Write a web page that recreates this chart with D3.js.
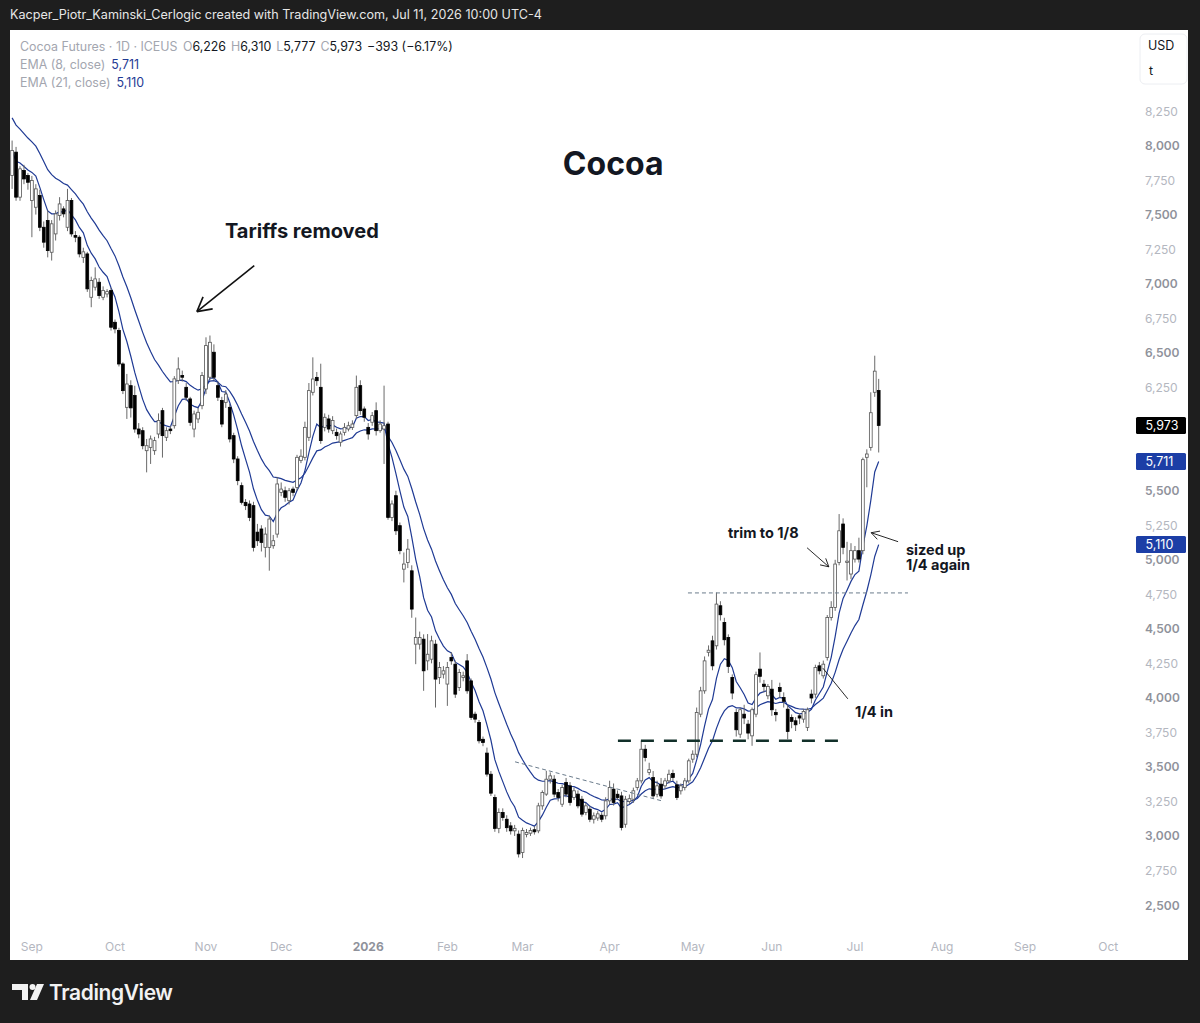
<!DOCTYPE html>
<html>
<head>
<meta charset="utf-8">
<script src="https://cdn.jsdelivr.net/npm/d3@7"></script>
<style>
  body { margin: 0; background: #1e1e1e; }
  svg { display: block; font-family: Inter, "Noto Sans", sans-serif; }
</style>
</head>
<body>
<svg id="chart" width="1200" height="1023"></svg>
<script>
'use strict'

// daily candles, [open, high, low, close], one list per month
const aug25 = [
  [7783, 8036, 7686, 7964], [7952, 7990, 7600, 7626], [7626, 7850, 7600, 7831], [7819, 7860, 7720, 7758],
  [7783, 7800, 7680, 7734]
]
const sep25 = [
  [7602, 7780, 7336, 7746], [7553, 7720, 7500, 7686], [7638, 7680, 7380, 7408], [7408, 7450, 7260, 7300],
  [7457, 7530, 7190, 7239], [7227, 7460, 7167, 7433], [7360, 7530, 7312, 7505], [7493, 7626, 7457, 7577],
  [7541, 7560, 7480, 7505], [7408, 7686, 7380, 7602], [7602, 7620, 7340, 7360], [7348, 7380, 7300, 7336],
  [7336, 7350, 7190, 7215], [7190, 7260, 7150, 7230], [7215, 7230, 6940, 6962], [6901, 7050, 6829, 7022],
  [6974, 7118, 6950, 7034], [7010, 7040, 6890, 6913], [6901, 6980, 6880, 6950], [6925, 6960, 6900, 6942],
  [6950, 6970, 6660, 6684]
]
const oct25 = [
  [6720, 6740, 6640, 6672], [6660, 6680, 6400, 6418], [6418, 6430, 6200, 6225], [6104, 6346, 6020, 6273],
  [6261, 6300, 6030, 6100], [6189, 6260, 5920, 5947], [5947, 5990, 5880, 5911], [5935, 5960, 5800, 5826],
  [5790, 5875, 5633, 5826], [5814, 5900, 5694, 5875], [5790, 5890, 5760, 5863], [5911, 6060, 5880, 6008],
  [6080, 6100, 5740, 5899], [5887, 5960, 5860, 5935], [5947, 5970, 5910, 5935], [5971, 6330, 5950, 6310],
  [6298, 6466, 6273, 6382], [6334, 6370, 6290, 6322], [6249, 6280, 6150, 6177], [6165, 6180, 5970, 5995],
  [5947, 6080, 5887, 6056], [6020, 6100, 5990, 6068], [6116, 6360, 6090, 6334]
]
const nov25 = [
  [6237, 6611, 6200, 6551], [6322, 6624, 6300, 6575], [6503, 6560, 6300, 6322], [6261, 6290, 6150, 6177],
  [6153, 6180, 5960, 5983], [6140, 6230, 6100, 6200], [6104, 6130, 5850, 5875], [5899, 5920, 5700, 5730],
  [5730, 5750, 5540, 5573], [5537, 5560, 5400, 5416], [5416, 5440, 5360, 5392], [5404, 5430, 5280, 5307],
  [5392, 5420, 5060, 5090], [5200, 5260, 5100, 5138], [5223, 5250, 5060, 5126], [5090, 5235, 5017, 5186],
  [5090, 5320, 4921, 5295], [5102, 5180, 5080, 5138], [5186, 5600, 5160, 5549]
]
const dec25 = [
  [5488, 5560, 5460, 5512], [5500, 5530, 5420, 5452], [5428, 5520, 5400, 5500], [5512, 5530, 5460, 5488],
  [5524, 5760, 5500, 5742], [5720, 5800, 5700, 5750], [5742, 6000, 5720, 5959], [5887, 6280, 5860, 6225],
  [6213, 6466, 6190, 6309], [6321, 6360, 6260, 6297], [6249, 6420, 5840, 5863], [5959, 6060, 5930, 6032],
  [6020, 6050, 5920, 5947], [5935, 6040, 5910, 6008], [5923, 5950, 5870, 5899], [5851, 5930, 5820, 5911],
  [5923, 5990, 5900, 5959], [5947, 6000, 5930, 5971], [5959, 6010, 5940, 5983], [6044, 6334, 6020, 6249],
  [6261, 6300, 6050, 6080], [6092, 6110, 6000, 6032]
]
const jan26 = [
  [5959, 5990, 5870, 5911], [5996, 6070, 5970, 6044], [6080, 6140, 5900, 5935], [5935, 6010, 5920, 5983],
  [5947, 6261, 5694, 5971], [5983, 6000, 5290, 5307], [5307, 5430, 5280, 5404], [5464, 5500, 5180, 5210],
  [5247, 5270, 5040, 5066], [4932, 5053, 4836, 4969], [4981, 5150, 4940, 5077], [4920, 4960, 4580, 4643],
  [4389, 4582, 4244, 4437], [4389, 4480, 4350, 4437], [4425, 4460, 4051, 4196], [4268, 4462, 4200, 4316],
  [4280, 4450, 4250, 4413], [4389, 4420, 3930, 4136], [4148, 4260, 4100, 4220], [4172, 4230, 4140, 4196]
]
const feb26 = [
  [4100, 4260, 3942, 4220], [4292, 4330, 4240, 4268], [4244, 4270, 4000, 4027], [4075, 4210, 4050, 4184],
  [4148, 4190, 4120, 4160], [4268, 4317, 4030, 4051], [4123, 4140, 3840, 3858], [3882, 3900, 3820, 3846],
  [3822, 3840, 3670, 3689], [3700, 3720, 3650, 3677], [3600, 3640, 3430, 3448], [3447, 3470, 3290, 3310],
  [3278, 3300, 3030, 3055], [3055, 3200, 3020, 3170], [3170, 3200, 3110, 3133], [3121, 3150, 3030, 3060],
  [3073, 3100, 3010, 3037], [3037, 3080, 3000, 3055], [3013, 3040, 2844, 2870]
]
const mar26 = [
  [2880, 3060, 2840, 3040], [3010, 3050, 2990, 3025], [3020, 3060, 3000, 3040], [3045, 3070, 3010, 3030],
  [3037, 3240, 3020, 3218], [3218, 3330, 3190, 3315], [3303, 3472, 3290, 3411], [3411, 3460, 3380, 3435],
  [3411, 3440, 3280, 3303], [3315, 3340, 3250, 3278], [3230, 3370, 3210, 3351], [3387, 3420, 3280, 3303],
  [3363, 3390, 3220, 3242], [3278, 3350, 3260, 3327], [3303, 3330, 3200, 3218], [3266, 3290, 3140, 3158],
  [3170, 3240, 3150, 3218], [3194, 3220, 3100, 3121], [3121, 3170, 3090, 3146], [3130, 3180, 3110, 3160],
  [3150, 3170, 3100, 3121], [3146, 3280, 3120, 3254]
]
const apr26 = [
  [3254, 3400, 3230, 3351], [3339, 3380, 3220, 3242], [3302, 3330, 3260, 3278], [3290, 3320, 3040, 3061],
  [3085, 3290, 3060, 3266], [3250, 3300, 3230, 3270], [3266, 3350, 3240, 3327], [3351, 3420, 3330, 3399],
  [3399, 3689, 3380, 3628], [3628, 3660, 3540, 3568], [3460, 3530, 3440, 3480], [3423, 3470, 3270, 3290],
  [3302, 3400, 3280, 3363], [3375, 3420, 3270, 3290], [3363, 3420, 3340, 3399], [3399, 3480, 3380, 3447],
  [3452, 3480, 3400, 3423], [3370, 3400, 3260, 3278], [3327, 3380, 3300, 3363], [3351, 3420, 3330, 3399],
  [3399, 3560, 3380, 3544]
]
const may26 = [
  [3556, 3620, 3530, 3592], [3592, 3930, 3570, 3894], [3882, 4080, 3860, 4051], [4051, 4300, 4030, 4268],
  [4330, 4380, 4300, 4345], [4413, 4450, 4200, 4232], [4377, 4763, 4350, 4679], [4667, 4700, 4560, 4602],
  [4546, 4580, 4380, 4421], [4437, 4460, 4180, 4228], [4148, 4170, 3990, 4035], [3894, 3920, 3720, 3769],
  [3737, 3930, 3710, 3914], [3882, 3950, 3810, 3854], [3810, 3840, 3700, 3745], [3725, 3930, 3653, 3914],
  [3882, 4190, 3860, 4168], [4208, 4329, 4110, 4156], [4099, 4130, 4040, 4083], [4015, 4100, 3990, 4083]
]
const jun26 = [
  [4063, 4130, 3870, 3914], [3894, 3920, 3830, 3878], [4075, 4110, 4000, 4047], [4003, 4040, 3930, 3975],
  [3918, 3950, 3700, 3757], [3858, 3880, 3780, 3830], [3834, 3860, 3760, 3805], [3870, 3890, 3810, 3854],
  [3846, 3920, 3820, 3902], [3785, 3930, 3760, 3914], [4027, 4060, 3960, 3999], [4027, 4240, 4000, 4220],
  [4232, 4260, 4170, 4196], [4160, 4270, 4140, 4244], [4293, 4600, 4270, 4582], [4582, 4700, 4560, 4655],
  [4655, 5000, 4630, 4969], [4981, 5331, 4960, 5210], [5259, 5300, 5040, 5090], [4981, 5130, 4850, 4990],
  [4897, 5120, 4860, 5066]
]
const jul26 = [
  [5005, 5100, 4980, 5066], [5066, 5160, 4980, 5005], [5066, 5740, 5040, 5725], [5742, 5800, 5525, 5766],
  [5814, 6213, 5790, 6065], [6213, 6478, 6180, 6366], [6226, 6310, 5777, 5973]
]

// exchange closed on these days (ICE US softs)
const holidays = ['2025-09-01', '2025-11-27', '2025-12-25', '2026-01-01', '2026-01-19', '2026-02-16',
  '2026-04-03', '2026-05-25', '2026-06-19', '2026-07-03', '2026-09-07']

// EMA values on the first visible bar at the left edge
const emaPeriods = [8, 21]
const emaStart = [7960, 8200]

const priceTicks = d3.range(2500, 8251, 250)

// annotations in (bar index, price) space
const notes = [
  { text: 'Cocoa', i: 151.9, p: 7790, cls: 'title' },
  { text: 'Tariffs removed', i: 53.8, p: 7333, cls: 'big' },
  { text: 'trim to 1/8', i: 180.9, p: 5160, cls: 'small' },
  { text: 'sized up', i: 225.9, p: 5036, cls: 'small' },
  { text: '1/4 again', i: 225.9, p: 4928, cls: 'small' },
  { text: '1/4 in', i: 213, p: 3862, cls: 'small' }
]
const arrows = [
  { from: [61.2, 7130], to: [46.7, 6797], head: 16 },
  { from: [200.9, 5087], to: [206.4, 4949], head: 9 },
  { from: [223.9, 5131], to: [217.1, 5196], head: 9 },
  { from: [211.2, 3993], to: [204.9, 4215], head: 0 }
]
const levels = [
  { from: [153.1, 3689], to: [211.2, 3689], kind: 'support' },
  { from: [170.8, 4760], to: [226.4, 4760], kind: 'thin' },
  { from: [127.1, 3537], to: [164.2, 3254], kind: 'thin' }
]

// ---------------------------------------------------------------

const candles = [aug25, sep25, oct25, nov25, dec25, jan26, feb26, mar26, apr26, may26, jun26, jul26].flat()
const closes = candles.map(c => c[3])

// trading days from the first bar out to the end of the axis
const iso = d3.utcFormat('%Y-%m-%d')
const days = []
for (let d = new Date(Date.UTC(2025, 7, 25)); d < new Date(Date.UTC(2026, 9, 20)); d = d3.utcDay.offset(d, 1)) {
  const wd = d.getUTCDay()
  if (wd == 0 || wd == 6 || holidays.includes(iso(d))) continue
  days.push(d)
}

function ema(values, period, seed) {
  const k = 2 / (period + 1)
  let prev = seed
  return values.map((v, i) => (prev = i == 0 ? seed : prev + k * (v - prev)))
}
const emas = emaPeriods.map((n, k) => ema(closes, n, emaStart[k]))

const svg = d3.select('#chart')
const pane = { left: 10, top: 30, right: 1130, bottom: 935 }

const x = d3.scaleLinear().domain([0, 277]).range([12.1, 1108.2])
const y = d3.scaleLinear().domain([2500, 8250]).range([905, 111])

const ink = '#131722', muted = '#a3a6af', blue = '#1c3ea6'

// top strip
svg.append('text').attr('x', 10).attr('y', 19)
  .attr('fill', '#e6e6e6').attr('font-size', 12.6)
  .text('Kacper_Piotr_Kaminski_Cerlogic created with TradingView.com, Jul 11, 2026 10:00 UTC-4')

svg.append('rect').attr('x', 10).attr('y', 30).attr('width', 1178).attr('height', 930).attr('fill', '#fff')

svg.append('defs').append('clipPath').attr('id', 'paneClip')
  .append('rect').attr('x', pane.left).attr('y', pane.top)
  .attr('width', pane.right - pane.left).attr('height', pane.bottom - pane.top)

const plot = svg.append('g').attr('clip-path', 'url(#paneClip)')

// EMA lines
const line = d3.line().x((d, i) => x(i)).y(d => y(d))
plot.selectAll('path.ema').data(emas).join('path')
  .attr('class', 'ema').attr('d', line)
  .attr('fill', 'none').attr('stroke', '#1f3a94').attr('stroke-width', 1.2)

// candles
const bw = 2.8
const cg = plot.selectAll('g.candle').data(candles).join('g').attr('class', 'candle')
cg.append('line')
  .attr('x1', (d, i) => x(i)).attr('x2', (d, i) => x(i))
  .attr('y1', d => y(d[1])).attr('y2', d => y(d[2]))
  .attr('stroke', '#6a6a6a').attr('stroke-width', 1)
cg.append('rect')
  .attr('x', (d, i) => x(i) - bw / 2).attr('width', bw)
  .attr('y', d => y(Math.max(d[0], d[3])))
  .attr('height', d => Math.max(1, Math.abs(y(d[0]) - y(d[3]))))
  .attr('fill', d => d[3] >= d[0] ? '#fff' : '#000')
  .attr('stroke', d => d[3] >= d[0] ? '#555' : '#000')
  .attr('stroke-width', 0.8)

// drawn levels
levels.forEach(l => {
  const sup = l.kind == 'support'
  plot.append('line')
    .attr('x1', x(l.from[0])).attr('y1', y(l.from[1]))
    .attr('x2', x(l.to[0])).attr('y2', y(l.to[1]))
    .attr('stroke', sup ? '#12302a' : '#6b7c8c')
    .attr('stroke-width', sup ? 2.4 : 1)
    .attr('stroke-dasharray', sup ? '13 10' : '4 3')
})

// arrows, open heads
arrows.forEach(a => {
  const x1 = x(a.from[0]), y1 = y(a.from[1]), x2 = x(a.to[0]), y2 = y(a.to[1])
  const g = plot.append('g').attr('stroke', '#111').attr('stroke-width', a.head > 10 ? 1.6 : 0.9).attr('fill', 'none')
  g.append('line').attr('x1', x1).attr('y1', y1).attr('x2', x2).attr('y2', y2)
  if (!a.head) return
  const ang = Math.atan2(y1 - y2, x1 - x2)
  ;[-0.5, 0.5].forEach(s => {
    g.append('line').attr('x1', x2).attr('y1', y2)
      .attr('x2', x2 + a.head * Math.cos(ang + s)).attr('y2', y2 + a.head * Math.sin(ang + s))
  })
})

// text notes
const noteStyle = {
  title: { size: 32, weight: 700, anchor: 'middle' },
  big: { size: 20, weight: 700, anchor: 'start' },
  small: { size: 14.5, weight: 700, anchor: 'start' }
}
plot.selectAll('text.note').data(notes).join('text')
  .attr('class', 'note')
  .attr('x', d => x(d.i)).attr('y', d => y(d.p))
  .attr('text-anchor', d => noteStyle[d.cls].anchor)
  .attr('font-size', d => noteStyle[d.cls].size)
  .attr('font-weight', d => noteStyle[d.cls].weight)
  .attr('fill', ink)
  .text(d => d.text)

// legend, top left
const fmt = d3.format(',.0f')
const last = candles[candles.length - 1], prevClose = candles[candles.length - 2][3]
const chg = last[3] - prevClose
const leg = svg.append('g').attr('font-size', 12.4)
const l1 = leg.append('text').attr('x', 20).attr('y', 51)
l1.append('tspan').attr('fill', muted).text('Cocoa Futures · 1D · ICEUS ')
;['O', 'H', 'L', 'C'].forEach((k, j) => {
  l1.append('tspan').attr('fill', muted).attr('dx', j ? 5 : 2).text(k)
  l1.append('tspan').attr('fill', ink).text(fmt(last[j]))
})
l1.append('tspan').attr('fill', ink).attr('dx', 5)
  .text(`${chg < 0 ? '−' : '+'}${fmt(Math.abs(chg))} (${chg < 0 ? '−' : '+'}${Math.abs(chg / prevClose * 100).toFixed(2)}%)`)
const emaLast = emas.map(e => e[e.length - 1])
emaPeriods.forEach((n, k) => {
  const t = leg.append('text').attr('x', 20).attr('y', 69 + k * 18)
  t.append('tspan').attr('fill', muted).text(`EMA (${n}, close)`)
  t.append('tspan').attr('fill', '#1f3a94').attr('dx', 6).text(fmt(emaLast[k]))
})

// last value tags
const tags = [
  { v: last[3], bg: '#000' },
  { v: emaLast[0], bg: blue },
  { v: emaLast[1], bg: blue }
]

// price axis, ticks hidden where a tag sits on them
svg.append('g').selectAll('text')
  .data(priceTicks.filter(p => tags.every(t => Math.abs(y(p) - y(t.v)) > 9)))
  .join('text')
  .attr('x', 1145).attr('y', d => y(d) + 4.5)
  .attr('font-size', 12).attr('fill', d => d % 500 == 0 ? '#8f929b' : '#b4b7bf')
  .attr('font-weight', d => d % 500 == 0 ? 600 : 400)
  .text(d => fmt(d))

// currency box
svg.append('rect').attr('x', 1140).attr('y', 34).attr('width', 47).attr('height', 50).attr('rx', 5)
  .attr('fill', '#fff').attr('stroke', '#eceef2')
svg.append('text').attr('x', 1148).attr('y', 50).attr('font-size', 12.5).attr('fill', ink).text('USD')
svg.append('text').attr('x', 1149).attr('y', 75).attr('font-size', 12.5).attr('fill', ink).text('t')

const tg = svg.append('g').selectAll('g').data(tags).join('g')
tg.append('rect').attr('x', 1136).attr('y', d => y(d.v) - 8.5).attr('width', 50).attr('height', 17).attr('rx', 1.5)
  .attr('fill', d => d.bg)
tg.append('text').attr('x', 1145.5).attr('y', d => y(d.v) + 4.5).attr('font-size', 12.5).attr('fill', '#fff').text(d => fmt(d.v))

// time axis, label at the first session of each month
const monthTicks = days.map((d, i) => ({ d, i }))
  .filter(o => o.i > 0 && o.d.getUTCMonth() != days[o.i - 1].getUTCMonth() && x(o.i) < pane.right - 10)
svg.append('g').selectAll('text').data(monthTicks).join('text')
  .attr('x', o => x(o.i)).attr('y', 951).attr('text-anchor', 'middle')
  .attr('font-size', 12)
  .attr('font-weight', o => o.d.getUTCMonth() == 0 ? 700 : 400)
  .attr('fill', o => o.d.getUTCMonth() == 0 ? '#8f929b' : '#b4b7bf')
  .text(o => o.d.getUTCMonth() == 0 ? d3.utcFormat('%Y')(o.d) : d3.utcFormat('%b')(o.d))

// TradingView mark, bottom left
const logo = svg.append('g').attr('fill', '#f2f2f2')
logo.append('path').attr('d', 'M12,984 h16 v16 h-6 v-10 h-10 z')
logo.append('circle').attr('cx', 32.5).attr('cy', 987).attr('r', 3)
logo.append('path').attr('d', 'M37,984 h7 l-7,16 h-7 z')
svg.append('text').attr('x', 49).attr('y', 1000).attr('font-size', 21).attr('font-weight', 600)
  .attr('fill', '#f2f2f2').attr('letter-spacing', -0.4).text('TradingView')
</script>
</body>
</html>
